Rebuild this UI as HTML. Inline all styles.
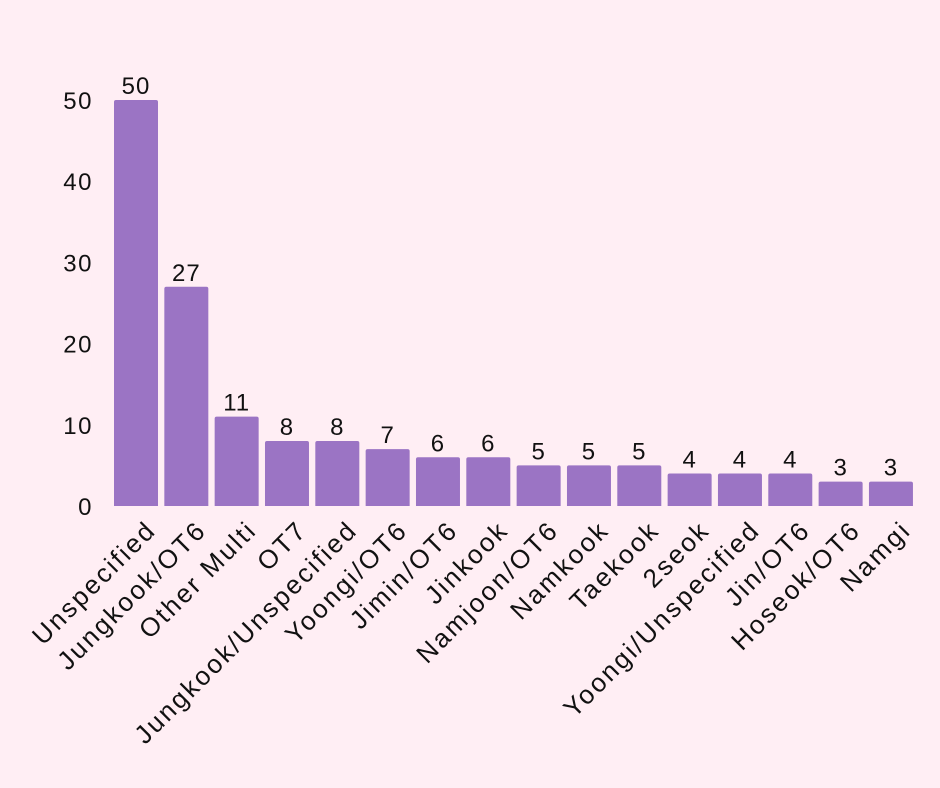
<!DOCTYPE html>
<html><head><meta charset="utf-8">
<style>
html,body{margin:0;padding:0;background:#ffeef4;}
svg{display:block;font-family:"Liberation Sans",sans-serif;}
</style></head>
<body>
<svg id="chart" width="940" height="788">
<rect width="940" height="788" fill="#ffeef4"/>
<g id="yaxis"></g>
<g id="bars"></g>
<g id="xaxis"></g>
</svg>
<script>
const categories=["Unspecified","Jungkook/OT6","Other Multi","OT7","Jungkook/Unspecified","Yoongi/OT6","Jimin/OT6","Jinkook","Namjoon/OT6","Namkook","Taekook","2seok","Yoongi/Unspecified","Jin/OT6","Hoseok/OT6","Namgi"];
const values=[50,27,11,8,8,7,6,6,5,5,5,4,4,4,3,3];
const yTicks=[0,10,20,30,40,50];
const NS="http://www.w3.org/2000/svg";
const y0=506,pxPerUnit=8.12,x0=114,pitch=50.33,bw=44;
function yScale(v){return y0-v*pxPerUnit;}
function xScale(i){return x0+i*pitch;}
function mk(tag,attrs,parent){const e=document.createElementNS(NS,tag);for(const k in attrs)e.setAttribute(k,attrs[k]);parent.appendChild(e);return e;}
const ya=document.getElementById('yaxis'),bg=document.getElementById('bars'),xa=document.getElementById('xaxis');
yTicks.forEach(t=>{
  const el=mk('text',{x:93,y:yScale(t)+9,'text-anchor':'end','font-size':24,'letter-spacing':1.5,fill:'#111'},ya);
  el.textContent=t;
  
  
});
values.forEach((v,i)=>{
  const x=xScale(i),y=yScale(v);
  const r=mk('path',{d:`M${x},${y0}V${y+2}Q${x},${y} ${x+2},${y}H${x+bw-2}Q${x+bw},${y} ${x+bw},${y+2}V${y0}Z`,fill:'#9b74c4'},bg);
  
  
  const t=mk('text',{x:x+bw/2,y:y-6,'text-anchor':'middle','font-size':24,'letter-spacing':1,fill:'#111'},bg);
  t.textContent=v;
  
  
  const cx=x+bw/2+8,cy=y0+12;
  const l=mk('text',{x:cx,y:cy,'text-anchor':'end','font-size':26,'letter-spacing':2.4,fill:'#111',transform:`rotate(-45 ${cx} ${cy})`,'dominant-baseline':'hanging'},xa);
  l.textContent=categories[i];
  
  
});
</script>
</body></html>
